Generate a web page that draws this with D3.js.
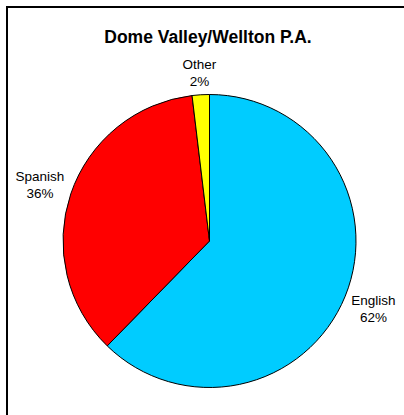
<!DOCTYPE html>
<html>
<head>
<meta charset="utf-8">
<script src="https://cdn.jsdelivr.net/npm/d3@7"></script>
<style>
  body { margin: 0; background: #fff; }
  text { font-family: "Liberation Sans", Arial, sans-serif; }
</style>
</head>
<body>
<div id="chart"></div>
<script>
// language shares (percent)
var categories = ["English", "Spanish", "Other"];
var shares = [62.3, 35.8, 1.9];
var labels = ["62%", "36%", "2%"];
var colors = ["#00CCFF", "#FF0000", "#FFFF00"];
var title = "Dome Valley/Wellton P.A.";

var width = 404, height = 415;

var svg = d3.select("#chart").append("svg")
    .attr("width", width)
    .attr("height", height);

svg.append("rect")
    .attr("x", 7).attr("y", 7)
    .attr("width", width + 20).attr("height", height + 20)
    .attr("fill", "#fff")
    .attr("stroke", "#000")
    .attr("stroke-width", 2);

svg.append("text")
    .attr("x", 208).attr("y", 43)
    .attr("text-anchor", "middle")
    .attr("font-size", "17.5px")
    .attr("font-weight", "bold")
    .text(title);

var cx = 209.5, cy = 241, radius = 146.5;

var data = categories.map(function(c, i) {
    return { name: c, value: shares[i], label: labels[i], color: colors[i] };
});

var pie = d3.pie()
    .sort(null)
    .value(function(d) { return d.value; });

var arc = d3.arc()
    .innerRadius(0)
    .outerRadius(radius);

var g = svg.append("g")
    .attr("transform", "translate(" + cx + "," + cy + ")");

var arcs = pie(data);

g.selectAll("path")
    .data(arcs)
  .enter().append("path")
    .attr("d", arc)
    .attr("fill", function(d) { return d.data.color; })
    .attr("stroke", "#000")
    .attr("stroke-width", 1);

// label distance from centre, per slice (wider labels sit further out)
var labelRadius = { English: 177, Spanish: 179, Other: 169 };

var lab = g.selectAll(".lab")
    .data(arcs)
  .enter().append("text")
    .attr("class", "lab")
    .attr("text-anchor", "middle")
    .attr("font-size", "13.5px")
    .attr("fill", "#000")
    .attr("transform", function(d) {
        var a = (d.startAngle + d.endAngle) / 2;
        var r = labelRadius[d.data.name];
        return "translate(" + (Math.sin(a) * r) + "," + (-Math.cos(a) * r) + ")";
    });

lab.append("tspan").attr("x", 0).attr("y", -3).text(function(d) { return d.data.name; });
lab.append("tspan").attr("x", 0).attr("y", 14).text(function(d) { return d.data.label; });
</script>
</body>
</html>
